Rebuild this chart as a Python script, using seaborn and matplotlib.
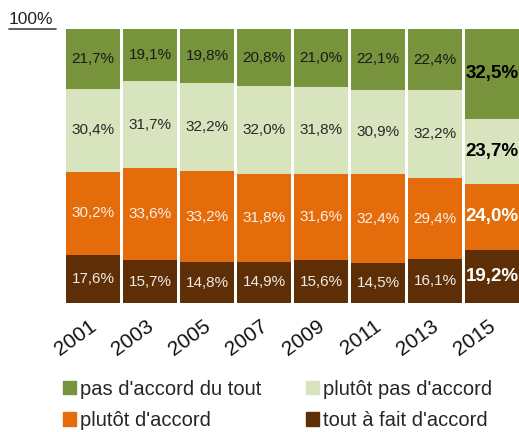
import numpy as np
import pandas as pd
import matplotlib
matplotlib.use("Agg")
import matplotlib.pyplot as plt
import matplotlib.transforms as mtransforms
import seaborn as sns
from matplotlib.patches import Patch
from matplotlib.lines import Line2D

# --- data ---
years = ["2001", "2003", "2005", "2007", "2009", "2011", "2013", "2015"]
tout_a_fait = [17.6, 15.7, 14.8, 14.9, 15.6, 14.5, 16.1, 19.2]
plutot_accord = [30.2, 33.6, 33.2, 31.8, 31.6, 32.4, 29.4, 24.0]
plutot_pas = [30.4, 31.7, 32.2, 32.0, 31.8, 30.9, 32.2, 23.7]
pas_du_tout = [21.7, 19.1, 19.8, 20.8, 21.0, 22.1, 22.4, 32.5]

series = ["tout à fait d'accord", "plutôt d'accord", "plutôt pas d'accord", "pas d'accord du tout"]
colors = ["#5E2F07", "#E46C0A", "#D7E4BD", "#77933C"]
text_colors = ["#F0EBE6", "#FBEFE6", "#2a2a2a", "#1a1a1a"]
text_colors_bold = ["white", "white", "black", "black"]

df = pd.DataFrame({"year": years,
                   series[0]: tout_a_fait,
                   series[1]: plutot_accord,
                   series[2]: plutot_pas,
                   series[3]: pas_du_tout})
vals = df[series].to_numpy()
pct = vals / vals.sum(axis=1, keepdims=True) * 100  # 100% stacked
cum = pct.cumsum(axis=1)

sns.set_style("white")
plt.rcParams["font.family"] = ["Liberation Sans", "DejaVu Sans"]

fig = plt.figure(figsize=(5.19, 4.32), dpi=100)
ax = fig.add_axes([64.5 / 519, (432 - 303) / 432, 456 / 519, 274 / 432])

# draw from the top layer down so each cumulative bar is covered by the next
for i in range(len(series) - 1, -1, -1):
    sns.barplot(x=df["year"], y=cum[:, i], color=colors[i], width=0.947,
                saturation=1, linewidth=0, ax=ax)

for j in range(len(years)):
    for i in range(len(series)):
        mid = cum[j, i] - pct[j, i] / 2
        label = f"{vals[j, i]:.1f}%".replace(".", ",")
        if years[j] == "2015":
            ax.text(j, mid, label, ha="center", va="center", fontsize=13.5,
                    fontweight="bold", color=text_colors_bold[i])
        else:
            ax.text(j, mid, label, ha="center", va="center", fontsize=11,
                    color=text_colors[i])

ax.set_xlim(-0.5, 7.5)
ax.set_ylim(0, 100)
ax.set_yticks([])
ax.set_xlabel("")
ax.set_ylabel("")
for s in ax.spines.values():
    s.set_visible(False)
ax.tick_params(axis="x", length=0, pad=10)
shift = mtransforms.ScaledTranslation(-4 / 100, 0, fig.dpi_scale_trans)
for lab in ax.get_xticklabels():
    lab.set_rotation(36)
    lab.set_ha("right")
    lab.set_rotation_mode("anchor")
    lab.set_fontsize(15)
    lab.set_color("#111111")
    lab.set_transform(lab.get_transform() + shift)

# "100%" label with its underline
fig.text(9 / 519, 1 - 20 / 432, "100%", fontsize=12.5, color="#222222", va="center", ha="left")
fig.add_artist(Line2D([9 / 519, 56 / 519], [1 - 28.5 / 432] * 2, color="#444444", lw=1.2))

handles = [Patch(color=colors[3]), Patch(color=colors[1]),
           Patch(color=colors[2]), Patch(color=colors[0])]
labels = [series[3], series[1], series[2], series[0]]
fig.legend(handles, labels, ncol=2, frameon=False, fontsize=14.5,
           loc="center left", bbox_to_anchor=(55 / 519, 1 - 405 / 432),
           handlelength=0.65, handleheight=0.65, handletextpad=0.2,
           columnspacing=2.2, labelspacing=0.62, borderaxespad=0)

fig.savefig("out.png", dpi=100)
